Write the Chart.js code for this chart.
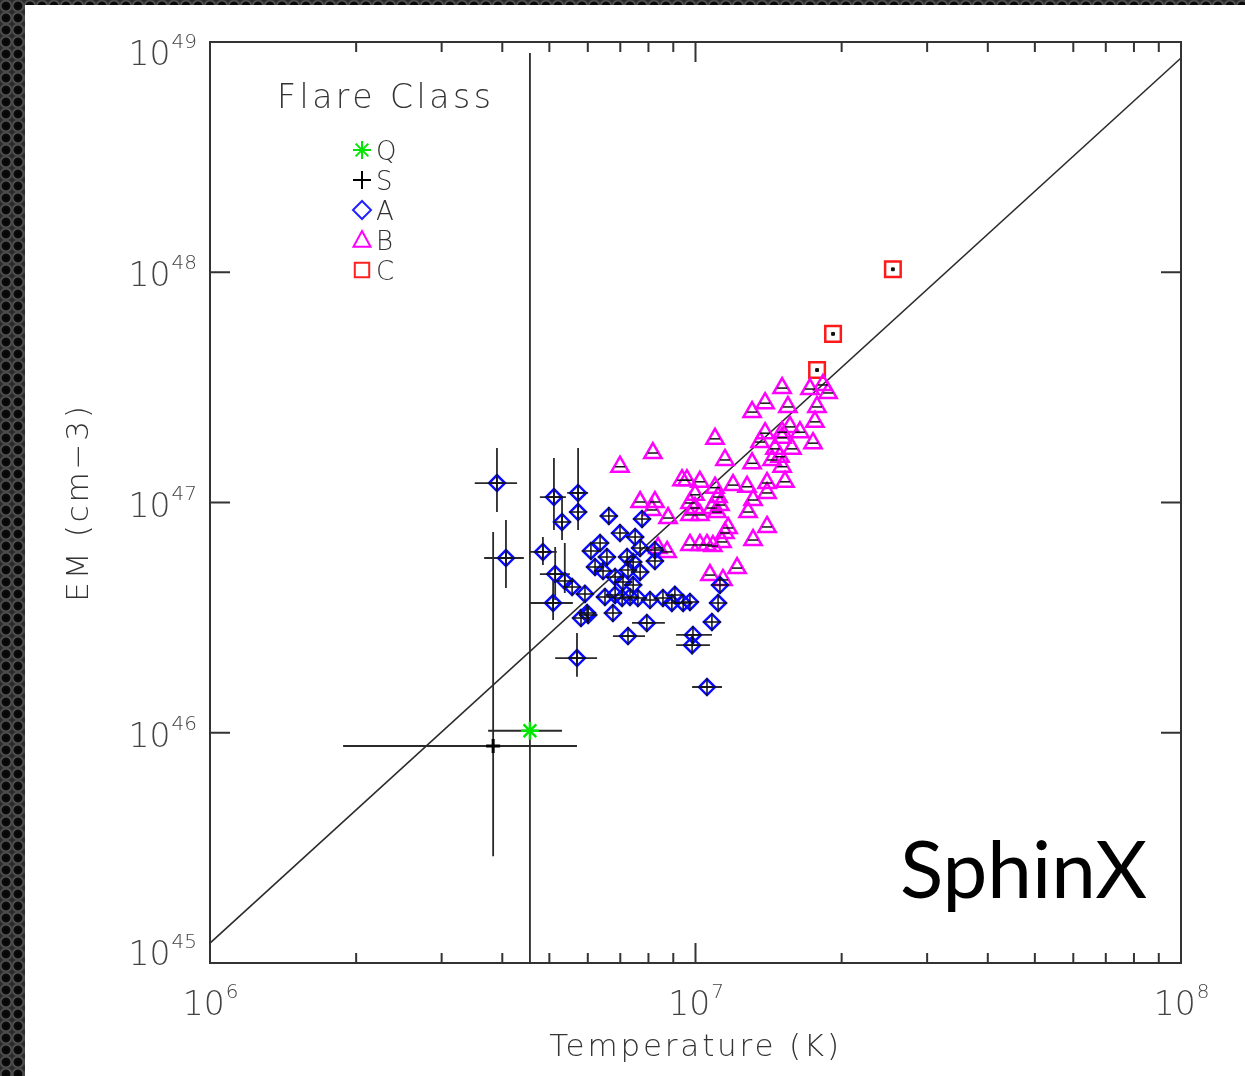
<!DOCTYPE html>
<html>
<head>
<meta charset="utf-8">
<script src="https://cdn.jsdelivr.net/npm/chart.js@4.4.0/dist/chart.umd.min.js"></script>
<style>
html,body{margin:0;padding:0;}
body{width:1245px;height:1076px;overflow:hidden;background-color:#2a2a2a;
  background-image:radial-gradient(circle at 50% 50%,#050505 0,#0b0b0b 4px,#5a5a5a 5px,#2a2a2a 7px);
  background-size:12px 12px;}
#panel{position:absolute;left:25px;top:5px;width:1220px;height:1071px;background:#fff;}
canvas{display:block;}
</style>
</head>
<body>
<div id="panel"><canvas id="myChart" width="1220" height="1071"></canvas></div>
<script>
// temperatures in MK, emission measures in 1e46 cm^-3
let tempQ = [4.56];
let emQ = [1.02];
let tempS = [3.83];
let emS = [0.876];

let tempA = [3.90,4.07,5.11,5.73,5.73,5.31,4.85,5.14,5.38,5.57,5.09,5.92,5.81,5.98,5.70,6.51,6.76,7.26,6.63,6.09,
             6.36,6.21,6.57,6.99,7.51,6.83,7.23,7.76,7.69,8.25,7.44,8.25,6.45,7.26,7.69,7.09,7.44,7.06,7.33,7.61,
             8.06,8.57,9.07,8.94,9.43,9.74,6.01,7.94,9.88,9.84,10.81,11.13,11.23,10.56,6.83];
let emA = [12.15,5.74,10.56,11.0,9.09,8.23,6.10,4.89,4.56,4.30,3.66,4.01,3.15,3.31,2.11,3.89,3.31,2.63,8.74,6.16,
           6.67,5.25,5.80,7.37,7.08,4.75,5.80,8.48,6.35,6.22,5.52,5.57,5.04,5.09,4.99,4.52,4.38,3.85,3.89,3.85,
           3.77,3.85,3.97,3.66,3.66,3.70,3.25,3.00,2.66,2.40,3.03,3.66,4.38,1.58,3.97];

let tempB = [6.99,8.17,10.97,11.50,9.38,9.60,10.21,10.97,11.95,12.77,14.04,15.29,9.98,11.13,7.69,8.25,8.13,9.74,9.98,10.81,
             11.23,13.14,14.04,9.74,10.21,11.07,12.83,8.78,11.67,11.50,14.04,13.14,9.74,10.21,10.56,10.86,11.34,8.74,8.37,12.18,
             10.71,15.08,17.21,18.30,18.75,13.91,13.08,15.50,17.79,17.62,15.65,16.41,15.08,13.91,13.58,15.08,17.46,14.58,15.80,14.38,
             14.93,13.08,15.08,11.39];
let emB = [14.3,16.4,18.9,15.3,12.5,12.5,12.3,11.6,11.9,11.7,12.15,12.3,10.8,10.56,10.05,10.05,9.28,9.95,9.46,9.46,
           9.75,10.25,11.0,8.83,8.83,9.09,9.09,8.56,7.75,7.37,7.83,6.87,6.54,6.54,6.54,6.47,6.74,6.10,6.35,5.19,
           4.84,31.4,31.1,32.4,29.9,27.0,24.7,26.0,26.0,22.4,21.3,20.2,20.2,20.0,18.3,19.1,18.1,17.1,17.1,15.3,
           15.8,14.8,14.3,4.61];

let tempC = [25.5,19.2,17.8];
let emC = [103,54,37.6];

// points with large error bars
let errT    = [3.90,4.07,5.11,5.73,5.31,4.85,5.14,5.38,5.09,5.70,7.26,7.94,9.88,9.84,10.56,4.56,3.83];
let errEM   = [12.15,5.74,10.56,11.0,8.23,6.10,4.89,4.56,3.66,2.11,2.63,3.00,2.66,2.40,1.58,1.02,0.876];
let errTlo  = [3.51,3.67,4.78,5.44,5.31,4.56,4.78,5.38,4.56,5.14,6.76,7.40,9.12,9.12,9.84,3.74,1.88];
let errThi  = [4.29,4.43,5.41,6.01,5.31,5.18,5.51,5.38,5.59,6.27,7.87,8.65,10.81,10.71,11.34,5.31,5.70];
let errEMlo = [9.09,4.25,7.60,7.60,6.87,5.35,3.77,4.05,3.09,1.75,2.63,3.00,2.66,2.40,1.58,0.05,0.291];
let errEMhi = [17.25,8.40,15.61,17.25,10.45,7.08,6.41,6.67,4.61,2.71,2.63,3.00,2.66,2.40,1.58,896,7.45];

// reference line
let lineT = [1, 100];
let lineEM = [0.122, 852];

let xTickVals = [1e6,1e7,1e8];
let xTickExps = ['6','7','8'];
let yTickVals = [1e45,1e46,1e47,1e48,1e49];
let yTickExps = ['45','46','47','48','49'];

let legendLabels = ['Q','S','A','B','C'];
let legendStyles = ['star','cross','rectRot','triangle','rect'];
let legendColors = ['#00e600','#000000','#2222ff','#ff00ff','#ff2020'];

function pts(t, e) {
    return t.map((v, i) => ({x: v * 1e6, y: e[i] * 1e46}));
}

let errSegments = [];
errT.forEach((t, i) => {
    if (errTlo[i] !== errThi[i]) {
        errSegments.push({x: errTlo[i] * 1e6, y: errEM[i] * 1e46}, {x: errThi[i] * 1e6, y: errEM[i] * 1e46}, {x: null, y: null});
    }
    if (errEMlo[i] !== errEMhi[i]) {
        errSegments.push({x: t * 1e6, y: errEMlo[i] * 1e46}, {x: t * 1e6, y: errEMhi[i] * 1e46}, {x: null, y: null});
    }
});

function drawSymbol(ctx, style, x, y, r) {
    ctx.beginPath();
    if (style === 'star') {
        for (let k = 0; k < 4; k++) {
            let ang = k * Math.PI / 4;
            ctx.moveTo(x - r * Math.cos(ang), y - r * Math.sin(ang));
            ctx.lineTo(x + r * Math.cos(ang), y + r * Math.sin(ang));
        }
    } else if (style === 'cross') {
        ctx.moveTo(x - r, y); ctx.lineTo(x + r, y);
        ctx.moveTo(x, y - r); ctx.lineTo(x, y + r);
    } else if (style === 'rectRot') {
        ctx.moveTo(x - r, y); ctx.lineTo(x, y - r); ctx.lineTo(x + r, y); ctx.lineTo(x, y + r); ctx.closePath();
    } else if (style === 'triangle') {
        ctx.moveTo(x, y - r);
        ctx.lineTo(x + r * 0.95, y + r * 0.75);
        ctx.lineTo(x - r * 0.95, y + r * 0.75);
        ctx.closePath();
    } else if (style === 'rect') {
        let h = r * 0.8;
        ctx.rect(x - h, y - h, 2 * h, 2 * h);
    }
    ctx.stroke();
}

const framePlugin = {
    id: 'frame',
    beforeDraw(chart) {
        chart.ctx.letterSpacing = '2.8px';
    },
    afterDraw(chart) {
        let ctx = chart.ctx;
        let a = chart.chartArea;
        let xs = chart.scales.x, ys = chart.scales.y;
        ctx.save();
        ctx.letterSpacing = '0px';
        ctx.strokeStyle = '#333';
        ctx.lineWidth = 2;
        ctx.strokeRect(a.left, a.top, a.right - a.left, a.bottom - a.top);

        function seg(x1, y1, x2, y2) {
            ctx.beginPath(); ctx.moveTo(x1, y1); ctx.lineTo(x2, y2); ctx.stroke();
        }
        // x ticks, inward on bottom and top
        xTickVals.forEach((v, i) => {
            let p = xs.getPixelForValue(v);
            seg(p, a.bottom, p, a.bottom - 20);
            seg(p, a.top, p, a.top + 20);
            if (i < xTickVals.length - 1) {
                for (let k = 2; k <= 9; k++) {
                    let q = xs.getPixelForValue(v * k);
                    seg(q, a.bottom, q, a.bottom - 10);
                    seg(q, a.top, q, a.top + 10);
                }
            }
        });
        yTickVals.forEach(v => {
            let p = ys.getPixelForValue(v);
            seg(a.left, p, a.left + 20, p);
            seg(a.right, p, a.right - 20, p);
        });

        // tick labels 10^n
        ctx.fillStyle = '#444';
        let bigFont = "200 33px 'DejaVu Sans'";
        let supFont = "200 20px 'DejaVu Sans'";
        ctx.textAlign = 'left';
        ctx.textBaseline = 'alphabetic';
        xTickVals.forEach((v, i) => {
            let p = xs.getPixelForValue(v);
            ctx.font = bigFont;
            let w1 = ctx.measureText('10').width;
            ctx.font = supFont;
            let w2 = ctx.measureText(xTickExps[i]).width;
            let start = p - (w1 + w2) / 2;
            ctx.font = bigFont;
            ctx.fillText('10', start, 1010);
            ctx.font = supFont;
            ctx.fillText(xTickExps[i], start + w1 + 1, 993);
        });
        yTickVals.forEach((v, i) => {
            let p = ys.getPixelForValue(v);
            let base = Math.min(Math.max(p + 14, a.top + 23), a.bottom + 2);
            ctx.font = supFont;
            let w2 = ctx.measureText(yTickExps[i]).width;
            ctx.textAlign = 'right';
            ctx.fillText(yTickExps[i], 172, base - 17);
            ctx.font = bigFont;
            ctx.fillText('10', 172 - w2 - 1, base);
        });

        // legend
        ctx.textAlign = 'left';
        ctx.fillStyle = '#333';
        ctx.font = "200 33px 'DejaVu Sans'";
        ctx.letterSpacing = '3.5px';
        ctx.fillText('Flare Class', 252, 103);
        ctx.letterSpacing = '0px';
        ctx.font = "200 26px 'DejaVu Sans'";
        legendLabels.forEach((lab, i) => {
            let cy = 145 + i * 30;
            ctx.strokeStyle = legendColors[i];
            ctx.lineWidth = 2;
            drawSymbol(ctx, legendStyles[i], 337, cy, 9);
            ctx.fillStyle = '#333';
            ctx.fillText(lab, 351, cy + 10);
        });

        // instrument name
        ctx.fillStyle = '#000';
        ctx.font = "400 80px Lato, 'Open Sans', sans-serif";
        ctx.fillText('SphinX', 875, 893);
        ctx.restore();
    }
};

var ctx = document.getElementById('myChart').getContext('2d');
var myChart = new Chart(ctx, {
    type: 'scatter',
    data: {
        datasets: [
            {label: 'Q', data: pts(tempQ, emQ), pointStyle: 'star', pointRadius: 9, borderColor: '#00e600', backgroundColor: '#00e600', borderWidth: 2.5, order: 1},
            {label: 'S', data: pts(tempS, emS), pointStyle: 'cross', pointRadius: 7, borderColor: '#000', borderWidth: 3, order: 1},
            {label: 'A err', data: pts(tempA, emA), pointStyle: 'cross', pointRadius: 9, borderColor: '#111', borderWidth: 1.5, order: 2},
            {label: 'B err', data: pts(tempB, emB), pointStyle: 'line', pointRadius: 5, borderColor: '#111', borderWidth: 1.5, order: 2},
            {label: 'C err', data: pts(tempC, emC), pointStyle: 'rect', pointRadius: 2, borderColor: '#111', backgroundColor: '#111', borderWidth: 1, order: 2},
            {label: 'A', data: pts(tempA, emA), pointStyle: 'rectRot', pointRadius: 8, borderColor: '#0a0aff', backgroundColor: 'rgba(0,0,0,0)', borderWidth: 2.5, order: 3},
            {label: 'B', data: pts(tempB, emB), pointStyle: 'triangle', pointRadius: 10, borderColor: '#ff00ff', backgroundColor: 'rgba(0,0,0,0)', borderWidth: 2.5, order: 3},
            {label: 'C', data: pts(tempC, emC), pointStyle: 'rect', pointRadius: 11, borderColor: '#ff1a1a', backgroundColor: 'rgba(0,0,0,0)', borderWidth: 2.5, order: 3},
            {label: 'errors', data: errSegments, showLine: true, spanGaps: false, pointRadius: 0, borderColor: '#2a2a2a', borderWidth: 1.8, order: 4},
            {label: 'fit', data: pts(lineT, lineEM), showLine: true, pointRadius: 0, borderColor: '#2a2a2a', borderWidth: 1.5, order: 5}
        ]
    },
    options: {
        responsive: false,
        animation: false,
        devicePixelRatio: 1,
        events: [],
        layout: {padding: {left: 0, top: 37, right: 64, bottom: 0}},
        plugins: {legend: {display: false}, tooltip: {enabled: false}},
        scales: {
            x: {
                type: 'logarithmic', position: 'bottom', min: 1e6, max: 1e8,
                grid: {display: false}, border: {display: false}, ticks: {display: false},
                afterBuildTicks: s => { s.ticks = xTickVals.map(v => ({value: v})); },
                afterFit: s => { s.height = 113; },
                title: {display: true, text: 'Temperature (K)', color: '#333',
                        font: {family: 'DejaVu Sans', size: 31, weight: '200'}, padding: {top: 0, bottom: 9}}
            },
            y: {
                type: 'logarithmic', position: 'left', min: 1e45, max: 1e49,
                grid: {display: false}, border: {display: false}, ticks: {display: false},
                afterBuildTicks: s => { s.ticks = yTickVals.map(v => ({value: v})); },
                afterFit: s => { s.width = 185; },
                title: {display: true, text: 'EM (cm\u22123)', color: '#333',
                        font: {family: 'DejaVu Sans', size: 31, weight: '200'}, padding: {top: 36, bottom: 0}}
            }
        }
    },
    plugins: [framePlugin]
});
</script>
</body>
</html>
